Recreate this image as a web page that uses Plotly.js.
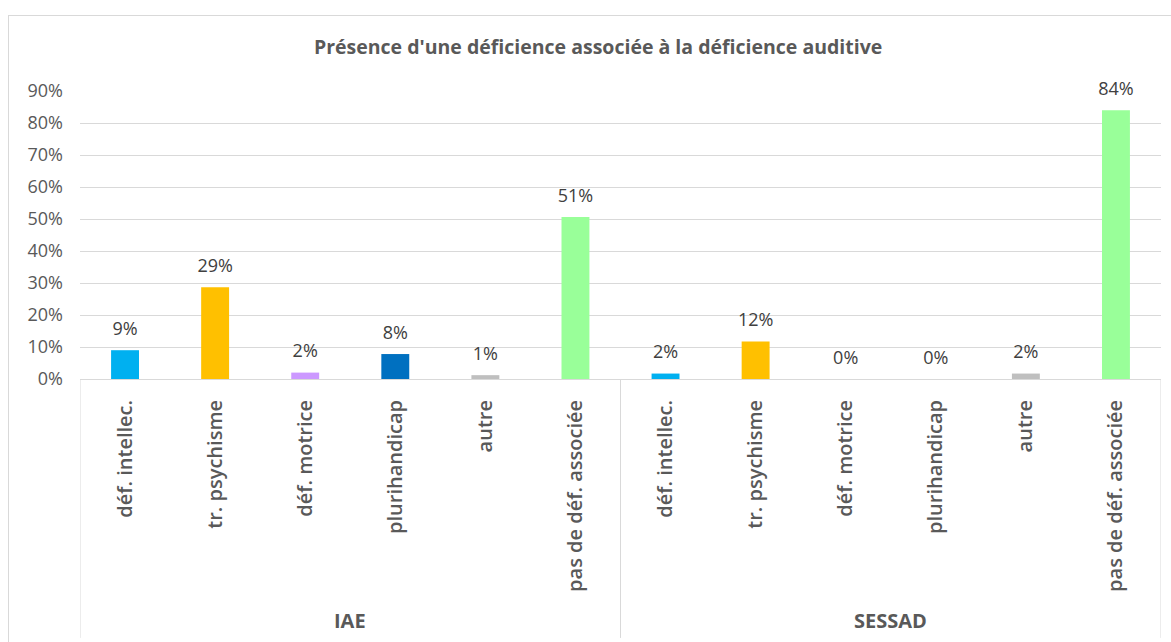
<!DOCTYPE html>
<html>
<head>
<meta charset="utf-8">
<script src="https://cdn.plot.ly/plotly-3.0.1.min.js"></script>
<style>
  html, body { margin: 0; padding: 0; background: #fff; overflow: hidden; }
  #chart { position: absolute; left: 8px; top: 15px; width: 1162px; height: 626px;
           border-left: 1px solid #d9d9d9; border-top: 1px solid #d9d9d9; }
</style>
</head>
<body>
<div id="chart"></div>
<script>
'use strict';

const groups = ['IAE', 'SESSAD'];
const categories = ['déf. intellec.', 'tr. psychisme', 'déf. motrice', 'plurihandicap', 'autre', 'pas de déf. associée'];
const iaeValues = [0.09, 0.287, 0.02, 0.078, 0.012, 0.506];
const sessadValues = [0.017, 0.117, 0, 0, 0.017, 0.84];
const barColors = ['#00B0F0', '#FFC000', '#CC99FF', '#0070C0', '#BFBFBF', '#99FF99'];

const grey = '#595959';
const lineGrey = '#d9d9d9';
const font = '"Open Sans", sans-serif';

// flatten the two groups onto one numeric axis: 0..5 = IAE, 6..11 = SESSAD
const xPos = [], tickText = [], yVals = [], colors = [];
[iaeValues, sessadValues].forEach((vals, g) => {
    vals.forEach((v, i) => {
        xPos.push(g * categories.length + i);
        tickText.push(categories[i]);
        yVals.push(v);
        colors.push(barColors[i]);
    });
});
const n = xPos.length, per = categories.length;

const bars = {
    type: 'bar', x: xPos, y: yVals,
    marker: { color: colors },
    hoverinfo: 'skip', showlegend: false,
};

const labels = {
    type: 'scatter', mode: 'markers+text', x: xPos, y: yVals,
    marker: { size: 16, opacity: 0 },
    text: yVals.map(v => Math.round(v * 100) + '%'),
    textposition: 'top center',
    textfont: { family: font, size: 18, color: '#404040' },
    cliponaxis: false,
    hoverinfo: 'skip', showlegend: false,
};

// group dividers and group names under the category labels
const shapes = [];
for (let g = 0; g <= groups.length; g++) {
    const xv = g * per - 0.5;
    shapes.push({ type: 'line', xref: 'x', yref: 'paper', x0: xv, x1: xv, y0: 0, y1: -0.899,
        line: { color: lineGrey, width: 1 } });
}
const annotations = groups.map((name, g) => ({
    xref: 'x', yref: 'paper', x: g * per + (per - 1) / 2, y: -0.84,
    text: '<b>' + name + '</b>', showarrow: false, yanchor: 'middle',
    font: { family: font, size: 20, color: grey },
}));

Plotly.newPlot('chart', [bars, labels], {
    width: 1162, height: 626,
    margin: { l: 71, r: 10, t: 75, b: 263 },
    paper_bgcolor: '#fff', plot_bgcolor: '#fff',
    font: { family: font, color: grey },
    bargap: 0.69,
    title: {
        text: "<b>Présence d'une déficience associée à la déficience auditive</b>",
        font: { family: font, size: 19.5, color: grey },
        x: 0.507, xanchor: 'center', y: 0.9505, yref: 'container', yanchor: 'middle',
    },
    xaxis: {
        range: [-0.5, n - 0.5], tickvals: xPos, ticktext: tickText, tickangle: -90,
        tickfont: { family: font, size: 20, color: grey, weight: 600 },
        showline: true, linecolor: lineGrey, linewidth: 1,
        showgrid: false, zeroline: false, ticks: '', ticklabelstandoff: 12,
    },
    yaxis: {
        range: [0, 0.9], dtick: 0.1, tickformat: '.0%',
        tickfont: { family: font, size: 18, color: grey },
        gridcolor: lineGrey, zeroline: false, ticks: '', ticklabelstandoff: 16,
    },
    shapes, annotations,
}, { displayModeBar: false, staticPlot: true });
</script>
</body>
</html>
